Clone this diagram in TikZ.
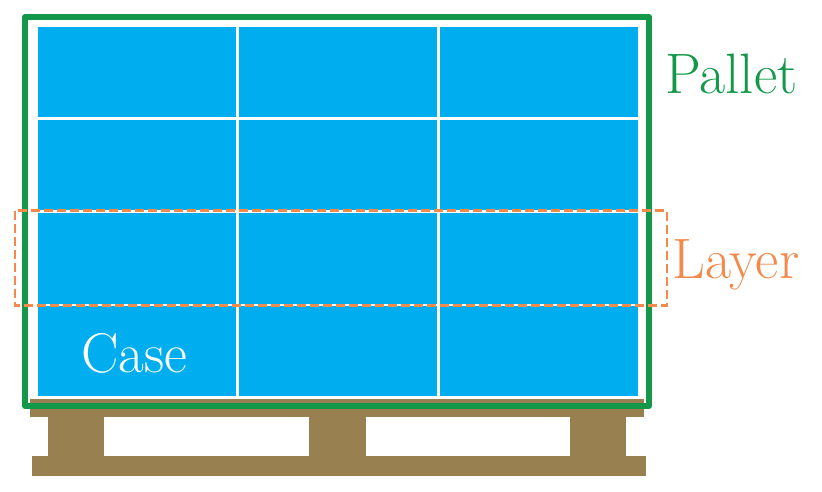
\documentclass[tikz,border=0pt]{standalone}
\usepackage{fontspec}
\definecolor{casebl}{RGB}{0,174,239}
\definecolor{palgreen}{RGB}{18,152,72}
\definecolor{layorange}{RGB}{244,137,76}
\definecolor{wood}{RGB}{153,128,80}
\tikzset{
  woodpart/.style={fill=wood, draw=none},
  gridline/.style={draw=white, line width=2.5pt},
  palletframe/.style={draw=palgreen, line width=6pt, line join=round},
  layerbox/.style={draw=layorange, line width=2.5pt, dash pattern=on 9pt off 4pt},
  lbl/.style={inner sep=0pt, font=\rmfamily\fontsize{57}{60}\selectfont},
}
\begin{document}
\begin{tikzpicture}[x=1pt,y=-1pt]
\useasboundingbox (0,0) rectangle (822,491);
% cases
\fill[casebl] (37.5,27) rectangle (638,396);
\draw[gridline] (237.5,27) -- (237.5,396);
\draw[gridline] (438.5,27) -- (438.5,396);
\draw[gridline] (37.5,118.5) -- (638,118.5);
\draw[gridline] (37.5,211.5) -- (638,211.5);
\draw[gridline] (37.5,305) -- (638,305);
% pallet
\path[woodpart] (30,399) rectangle (644,417);
\path[woodpart] (48,416) rectangle (104,457);
\path[woodpart] (309,416) rectangle (366,457);
\path[woodpart] (570,416) rectangle (626,457);
\path[woodpart] (32,456) rectangle (646,476);
% frames
\draw[palletframe] (25,17) rectangle (649,406);
\draw[layerbox] (15,210.5) rectangle (667,305.5);
% labels
\node[lbl, text=palgreen, anchor=base west] (pallet) at (665,93) {Pallet};
\node[lbl, text=layorange, anchor=base west] (layer) at (672,278) {Layer};
\node[lbl, text=white, anchor=base west, font=\rmfamily\fontsize{56}{60}\selectfont] (case) at (81,372) {Case};
\end{tikzpicture}
\end{document}
